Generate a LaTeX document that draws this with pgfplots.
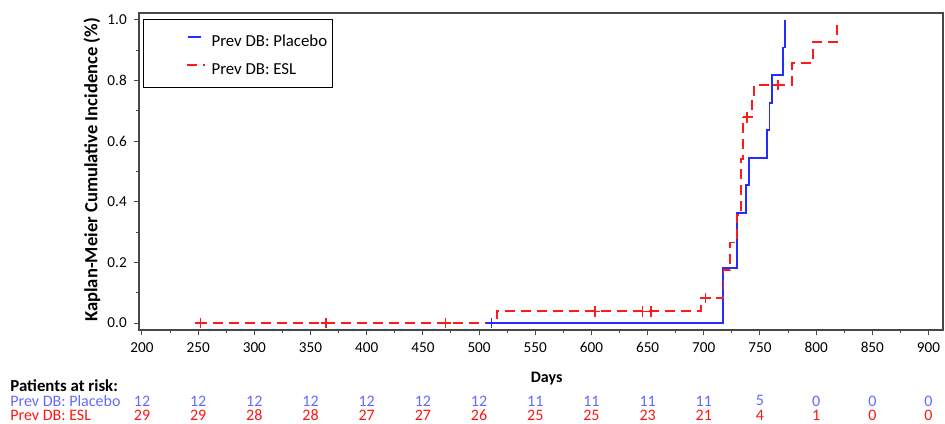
\documentclass[border=0pt]{standalone}
\usepackage{fontspec}
\setmainfont{Carlito}
\usepackage{pgfplots}
\pgfplotsset{compat=1.18}

\definecolor{pbo}{RGB}{35,45,255}
\definecolor{esl}{RGB}{255,25,25}
\definecolor{pbotext}{RGB}{100,105,255}
\definecolor{esltext}{RGB}{255,20,20}

\begin{document}
\begin{tikzpicture}[font=\fontsize{8}{9.6}\selectfont]
\begin{axis}[
  scale only axis,
  width=402pt, height=158.5pt,
  xmin=197.33, xmax=912.9,
  ymin=-0.023, ymax=1.023,
  clip=false,
  axis line style={draw=black!72, line width=0.6pt},
  tick style={draw=black!72, line width=0.5pt},
  tick align=outside,
  xtick pos=bottom, ytick pos=left,
  xtick={200,250,...,900},
  ytick={0,0.2,...,1.0},
  minor x tick num=1, minor y tick num=1,
  major tick length=2.6pt, minor tick length=1.6pt,
  tick label style={font=\fontsize{7.6}{9}\selectfont},
  /pgf/number format/assume math mode=true,
  yticklabel style={/pgf/number format/.cd, fixed, fixed zerofill, precision=1},
  xticklabel style={/pgf/number format/.cd, fixed, 1000 sep={}},
  xlabel={\bfseries Days},
  ylabel={\bfseries Kaplan-Meier Cumulative Incidence (\%)},
  every axis x label/.style={at={(axis description cs:0.507,-0.1546)}, anchor=center},
  every axis y label/.style={at={(axis description cs:-0.0585,0.505)}, anchor=center, rotate=90,
    font=\fontsize{9.3}{11}\selectfont},
  legend style={at={(axis description cs:0.005,0.981)}, anchor=north west,
    inner xsep=2.5pt, inner ysep=6pt,
    row sep=6pt, column sep=3pt,
    nodes={inner sep=0pt, text height=7.6pt, text depth=0.4pt},
    font=\fontsize{8.4}{10}\selectfont},
  legend cell align=left,
]
\coordinate (O) at (rel axis cs:0,0);

\addlegendimage{legend image code/.code={\path (0pt,0pt); \draw[color=pbo, line width=0.8pt] (19.5pt,1.1pt) -- (26pt,1.1pt);}}
\addlegendentry{Prev DB: Placebo}
\addlegendimage{legend image code/.code={\path (0pt,0pt); \draw[color=esl, line width=0.8pt, dash pattern=on 5pt off 3pt] (19pt,1.1pt) -- (28pt,1.1pt);}}
\addlegendentry{Prev DB: ESL}

% Placebo cumulative incidence
\addplot[const plot, color=pbo, line width=0.9pt, forget plot] coordinates {
  (505,0) (717.3,0.1818) (729.3,0.3636) (737.8,0.4545) (740.3,0.5455)
  (756.2,0.6364) (758.4,0.7273) (760.8,0.8182) (770.8,0.9091) (772.3,1.0)
};
% ESL cumulative incidence
\addplot[const plot, color=esl, line width=0.9pt, dash pattern=on 5pt off 3pt, forget plot] coordinates {
  (249,0) (515.7,0.0385) (697.2,0.0822) (717.6,0.1740) (723.3,0.2658)
  (729.3,0.3575) (733.3,0.5411) (734.6,0.6788) (742.8,0.7323) (744.7,0.7858)
  (778.2,0.8572) (797.4,0.9286) (818.8,1.0)
};
% censored
\addplot[only marks, mark=+, mark size=2.6pt, color=pbo, mark options={line width=0.8pt}, forget plot] coordinates {
  (511,0)
};
\addplot[only marks, mark=+, mark size=2.6pt, color=esl, mark options={line width=0.8pt}, forget plot] coordinates {
  (252,0) (364,0) (470,0) (603,0.0385) (645.3,0.0385) (653,0.0385)
  (701.5,0.0822) (738.5,0.6788) (766,0.7858)
};

% patients at risk
\addplot[draw=none, mark=none, forget plot, nodes near coords, point meta=explicit symbolic,
  every node near coord/.append style={anchor=center, inner sep=0pt, text=pbotext}]
  table[meta=n] {
x y n
200 -0.2570 12
250 -0.2570 12
300 -0.2570 12
350 -0.2570 12
400 -0.2570 12
450 -0.2570 12
500 -0.2570 12
550 -0.2570 11
600 -0.2570 11
650 -0.2570 11
700 -0.2570 11
750 -0.2570 5
800 -0.2570 0
850 -0.2570 0
900 -0.2570 0
};
\addplot[draw=none, mark=none, forget plot, nodes near coords, point meta=explicit symbolic,
  every node near coord/.append style={anchor=center, inner sep=0pt, text=esltext}]
  table[meta=n] {
x y n
200 -0.3050 29
250 -0.3050 29
300 -0.3050 28
350 -0.3050 28
400 -0.3050 27
450 -0.3050 27
500 -0.3050 26
550 -0.3050 25
600 -0.3050 25
650 -0.3050 23
700 -0.3050 21
750 -0.3050 4
800 -0.3050 1
850 -0.3050 0
900 -0.3050 0
};

\node[anchor=west, inner sep=0pt, font=\fontsize{8.4}{10}\selectfont\bfseries] at (axis description cs:-0.1604,-0.1740) {Patients at risk:};
\node[anchor=west, inner sep=0pt, text=pbotext] at (axis description cs:-0.1604,-0.2235) {Prev DB: Placebo};
\node[anchor=west, inner sep=0pt, text=esltext] at (axis description cs:-0.1604,-0.2700) {Prev DB: ESL};
\end{axis}
\pgfresetboundingbox
\path[use as bounding box] ([shift={(-69.5pt,-46.5pt)}]O) rectangle ([shift={(403pt,165pt)}]O);
\end{tikzpicture}
\end{document}
